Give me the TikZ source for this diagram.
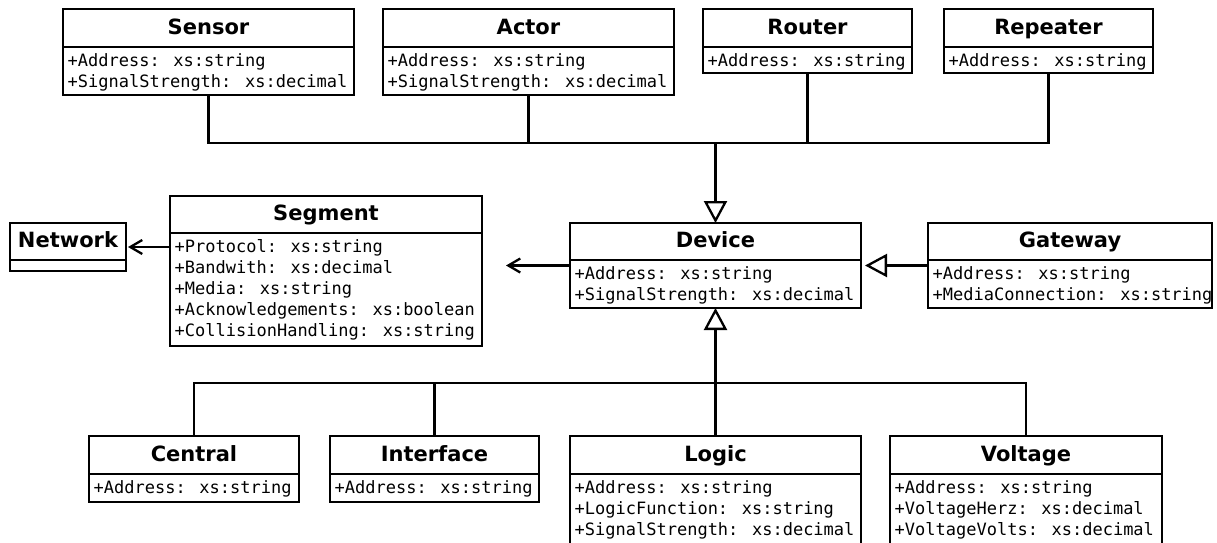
\documentclass[tikz,border=0pt]{standalone}
\usepackage{fontspec}
\newfontfamily\titlefont{DejaVu Sans}
\newfontfamily\attrfont{DejaVu Sans Mono}
\usetikzlibrary{arrows.meta}

% #1 name, #2 x1, #3 y1, #4 x2, #5 y divider, #6 y2, #7 title, #8 attributes
\newcommand{\umlclass}[8]{%
  \node[classbox, minimum width={(#4-#2)*1pt}, minimum height={(#6-#3)*1pt}, anchor=north west] (#1) at (#2,#3) {};
  \draw[classline] (#2,#5) -- (#4,#5);
  \node[classtitle, anchor=base] (#1-title) at ({(#2+#4)/2},#5-12.5) {#7};
  \node[classattr, anchor=base west] (#1-attr) at (#2+4.5,#5+19.5) {\begin{tabular}[t]{@{}l@{}}#8\end{tabular}};
}

\begin{document}
\begin{tikzpicture}[x=1pt,y=-1pt,
  classbox/.style={draw, line width=2.3pt, fill=white, inner sep=0pt, outer sep=0pt},
  classline/.style={line width=2.3pt},
  classtitle/.style={font=\titlefont\bfseries\fontsize{21}{25}\selectfont, inner sep=0pt},
  classattr/.style={font=\attrfont\fontsize{17}{21}\selectfont, inner sep=0pt},
  conn/.style={line width=2.3pt},
  inherit/.style={conn, -{Triangle[open, length=22pt, width=23pt, fill=white]}},
  assoc/.style={conn, -{Straight Barb[length=12pt, width=14pt]}},
]
\useasboundingbox (0,0) rectangle (1217,542);
\clip (0,0) rectangle (1217,542);

% top row
\umlclass{sensor}{63}{9}{354}{47}{95}{Sensor}{+Address: xs:string\\+SignalStrength: xs:decimal}
\umlclass{actor}{383}{9}{674}{47}{95}{Actor}{+Address: xs:string\\+SignalStrength: xs:decimal}
\umlclass{router}{703}{9}{912}{47}{73}{Router}{+Address: xs:string}
\umlclass{repeater}{944}{9}{1153}{47}{73}{Repeater}{+Address: xs:string}

% middle row
\node[classbox, minimum width=116pt, minimum height=48pt, anchor=north west] (network) at (10,223) {};
\draw[classline] (10,260) -- (126,260);
\node[classtitle, anchor=base] (network-title) at (68,247.5) {Network};

\umlclass{segment}{170}{196}{482}{233}{346}{Segment}{+Protocol: xs:string\\+Bandwith: xs:decimal\\+Media: xs:string\\+Acknowledgements: xs:boolean\\+CollisionHandling: xs:string}
\umlclass{device}{570}{223}{861}{260}{308}{Device}{+Address: xs:string\\+SignalStrength: xs:decimal}
\umlclass{gateway}{928}{223}{1212}{260}{308}{Gateway}{+Address: xs:string\\+MediaConnection: xs:string}

% bottom row
\umlclass{central}{89}{436}{299}{474}{502}{Central}{+Address: xs:string}
\umlclass{interface}{330}{436}{539}{474}{502}{Interface}{+Address: xs:string}
\umlclass{logic}{570}{436}{861}{474}{545}{Logic}{+Address: xs:string\\+LogicFunction: xs:string\\+SignalStrength: xs:decimal}
\umlclass{voltage}{890}{436}{1162}{474}{545}{Voltage}{+Address: xs:string\\+VoltageHerz: xs:decimal\\+VoltageVolts: xs:decimal}

% top generalization
\coordinate (topbus) at (device.north |- 0,143);
\draw[conn] (sensor.south) |- (topbus) -| (repeater.south);
\draw[conn] (actor.south) -- (actor.south |- topbus);
\draw[conn] (router.south) -- (router.south |- topbus);
\draw[inherit] (topbus) -- (device.north);

% bottom generalization
\coordinate (botbus) at (device.south |- 0,383);
\draw[conn] (central.north) |- (botbus) -| (voltage.north);
\draw[conn] (interface.north) -- (interface.north |- botbus);
\draw[inherit] (logic.north) -- (device.south);

% gateway
\draw[inherit, shorten >=4pt] (gateway.west) -- (device.east);

% associations
\coordinate (segtip) at (506,265.5);
\draw[assoc] (device.west) -- (segtip);
\draw[assoc, shorten >=2pt] (segment.west |- network.east) -- (network.east);
\end{tikzpicture}
\end{document}
